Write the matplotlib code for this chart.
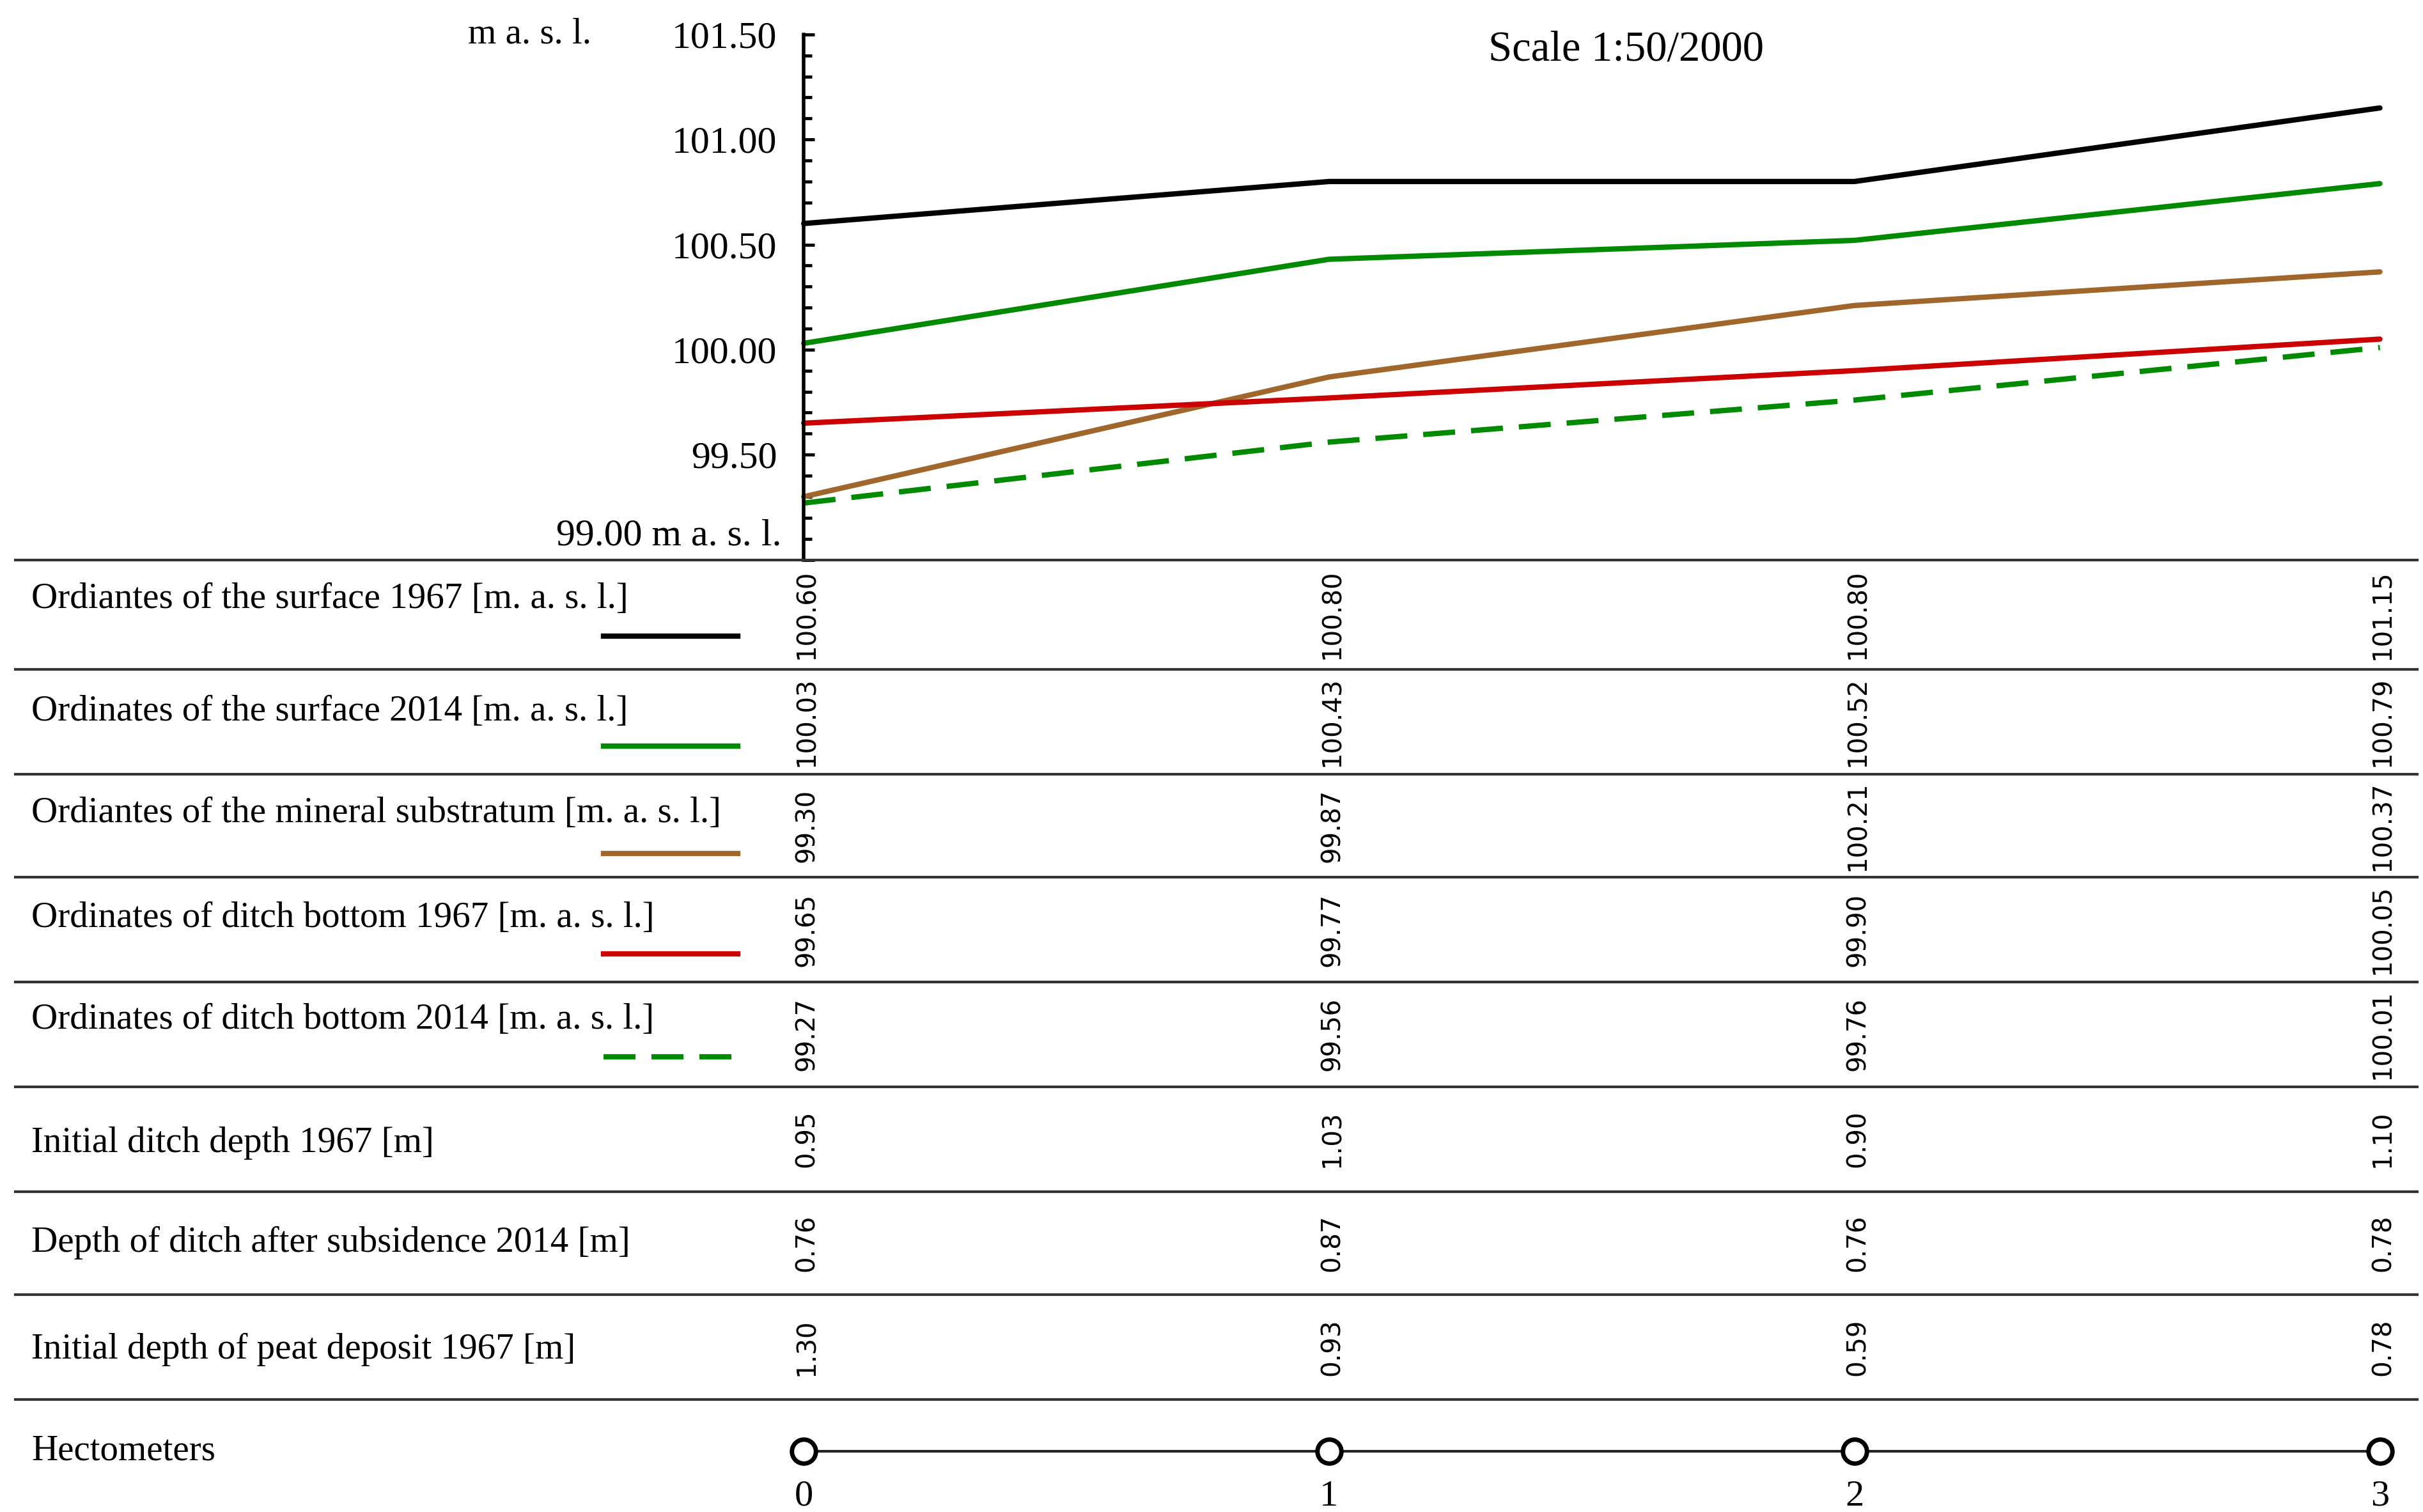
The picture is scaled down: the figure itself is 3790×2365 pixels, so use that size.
import numpy as np
import matplotlib
matplotlib.use("Agg")
import matplotlib.pyplot as plt

# profile data (hectometer stations)
stations = [0, 1, 2, 3]
surface_1967 = [100.60, 100.80, 100.80, 101.15]
surface_2014 = [100.03, 100.43, 100.52, 100.79]
mineral = [99.30, 99.87, 100.21, 100.37]
ditch_1967 = [99.65, 99.77, 99.90, 100.05]
ditch_2014 = [99.27, 99.56, 99.76, 100.01]
depth_ditch_1967 = [0.95, 1.03, 0.90, 1.10]
depth_ditch_2014 = [0.76, 0.87, 0.76, 0.78]
depth_peat_1967 = [1.30, 0.93, 0.59, 0.78]

row_labels = [
    "Ordiantes of the surface 1967 [m. a. s. l.]",
    "Ordinates of the surface 2014 [m. a. s. l.]",
    "Ordiantes of the mineral substratum [m. a. s. l.]",
    "Ordinates of ditch bottom 1967 [m. a. s. l.]",
    "Ordinates of ditch bottom 2014 [m. a. s. l.]",
    "Initial ditch depth 1967 [m]",
    "Depth of ditch after subsidence 2014 [m]",
    "Initial depth of peat deposit 1967 [m]",
]
row_values = [surface_1967, surface_2014, mineral, ditch_1967, ditch_2014,
              depth_ditch_1967, depth_ditch_2014, depth_peat_1967]
line_colors = ["#000000", "#008a00", "#a0662c", "#cc0000", "#008a00"]
line_styles = ["-", "-", "-", "-", "--"]

serif = "Liberation Serif"
sans = "DejaVu Sans"

W, H = 1550.0, 967.0          # layout grid used for placing things
fig = plt.figure(figsize=(37.91, 23.65), dpi=100)

def fx(x):
    return x / W

def fy(y):
    return 1 - y / H

x0, x3 = 514, 1522
y_top, y_bot = 22, 358
LW = 6

# ---- chart ----
ax = fig.add_axes([fx(x0), fy(y_bot), fx(x3) - fx(x0), fy(y_top) - fy(y_bot)])
ax.set_xlim(0, 3)
ax.set_ylim(99.0, 101.5)
for k in ["top", "right", "bottom"]:
    ax.spines[k].set_visible(False)
ax.spines["left"].set_linewidth(4)
ax.set_xticks([])
ax.set_yticks(np.arange(99.0, 101.51, 0.5))
ax.set_yticks(np.arange(99.0, 101.51, 0.1), minor=True)
ax.set_yticklabels([""] + ["%.2f" % v for v in np.arange(99.5, 101.51, 0.5)],
                   fontfamily=serif, fontsize=43)
ax.tick_params(axis="y", which="major", direction="in", length=12, width=3.5, pad=30)
ax.tick_params(axis="y", which="minor", direction="in", length=9, width=3.5)
ax.patch.set_visible(False)

series = [surface_1967, surface_2014, mineral, ditch_1967, ditch_2014]
for vals, c, ls in zip(series, line_colors, line_styles):
    ln, = ax.plot(stations, vals, color=c, lw=LW, ls=ls, clip_on=False,
                  solid_capstyle="round")
    if ls == "--":
        ln.set_dashes((6, 3))

fig.text(fx(500), fy(343), "99.00 m a. s. l.", ha="right", va="center",
         fontfamily=serif, fontsize=43)
fig.text(fx(378), fy(22), "m a. s. l.", ha="right", va="center",
         fontfamily=serif, fontsize=41)
fig.text(fx(1040), fy(32), "Scale 1:50/2000", ha="center", va="center",
         fontfamily=serif, fontsize=48)

# ---- table below ----
tab = fig.add_axes([0, 0, 1, 1])
tab.set_axis_off()
# x in station units, y in layout units
sx = (x3 - x0) / 3.0
tab.set_xlim(-x0 / sx, (W - x0) / sx)
tab.set_ylim(H, 0)

row_lines = [358, 428, 495, 561, 628, 695, 762, 828, 895]
for y in row_lines:
    tab.plot([(10 - x0) / sx, (1546 - x0) / sx], [y, y], color="#333333", lw=3)

label_y = [383, 455, 520, 587, 652, 731, 795, 863]
sample_y = [407, 477, 546, 610, 676]
for i, (lab, vals) in enumerate(zip(row_labels, row_values)):
    tab.text((20 - x0) / sx, label_y[i], lab, ha="left", va="center",
             fontfamily=serif, fontsize=41)
    yc = (row_lines[i] + row_lines[i + 1]) / 2
    for s, v in zip(stations, vals):
        tab.text(s + 0.006, yc, "%.2f" % v, rotation=90, ha="center", va="center",
                 fontfamily=sans, fontsize=29)
    if i < len(series):
        ln, = tab.plot([(386 - x0) / sx, (472 - x0) / sx], [sample_y[i]] * 2,
                       color=line_colors[i], lw=LW, ls=line_styles[i])
        if line_styles[i] == "--":
            ln.set_dashes((6, 3))

# hectometers row
tab.text((20 - x0) / sx, 928, "Hectometers", ha="left", va="center",
         fontfamily=serif, fontsize=41)
tab.plot(stations, [928] * len(stations), color="#222222", lw=3,
         marker="o", markersize=27, markerfacecolor="white",
         markeredgecolor="black", markeredgewidth=5)
for s in stations:
    tab.text(s, 957, str(s), ha="center", va="center", fontfamily=serif, fontsize=42)

fig.savefig("out.png", dpi=100)
